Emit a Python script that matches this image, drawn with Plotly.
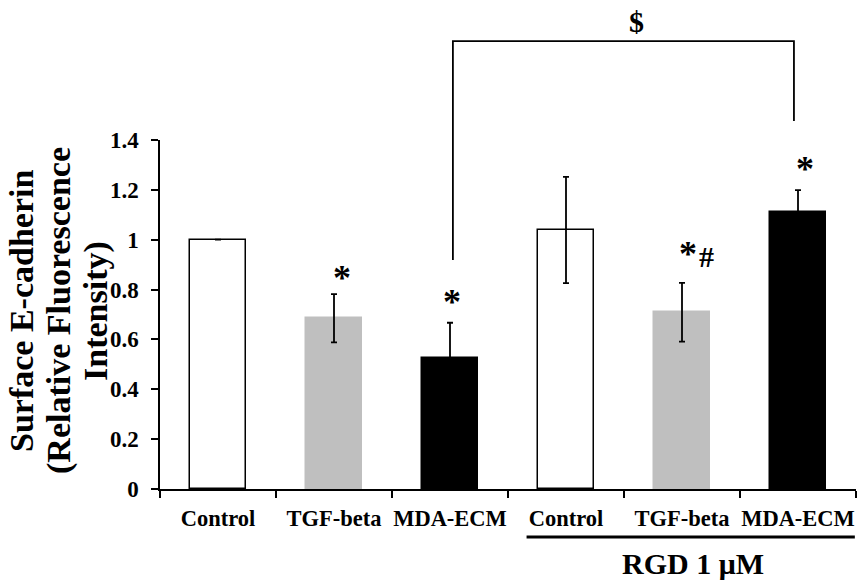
import plotly.graph_objects as go

# ---- data ----
categories = ["Control", "TGF-beta", "MDA-ECM", "Control", "TGF-beta", "MDA-ECM"]
means = [1.0, 0.685, 0.524, 1.039, 0.709, 1.112]
errors = [0.0, 0.097, 0.143, 0.213, 0.118, 0.087]
y_ticks = [0, 0.2, 0.4, 0.6, 0.8, 1.0, 1.2, 1.4]
y_ticktext = ["0", "0.2", "0.4", "0.6", "0.8", "1", "1.2", "1.4"]
title_lines = ["Surface E-cadherin", "(Relative Fluorescence", "Intensity)"]
group_label = "RGD 1 μM"
bracket_label = "$"

# ---- styles ----
FONT = "Liberation Serif, Times New Roman, serif"
fills = ["white", "#bfbfbf", "black", "white", "#bfbfbf", "black"]
edges = ["black", "#bfbfbf", "black", "black", "#bfbfbf", "black"]

W, H = 859, 585
ML, MR, MT, MB = 160, 3, 140, 96
PW = W - ML - MR
PH = H - MT - MB
YMAX = 1.4

x = list(range(len(categories)))

fig = go.Figure()
fig.add_trace(go.Bar(
    x=x, y=means, width=0.49,
    marker=dict(color=fills, line=dict(color=edges, width=1.5)),
    error_y=dict(type="data", array=[e if e > 0 else None for e in errors],
                 visible=True, color="black", thickness=1.8, width=3),
    showlegend=False,
))


def px_to_paper_x(px):
    return (px - ML) / PW


def px_to_paper_y(py):
    return (H - MB - py) / PH


annotations = []
# y-axis title lines (rotated)
for txt, px in zip(title_lines, [21, 59, 96]):
    annotations.append(dict(
        text=txt, xref="paper", yref="paper",
        x=px_to_paper_x(px), y=px_to_paper_y(311),
        xanchor="center", yanchor="middle", textangle=-90, showarrow=False,
        font=dict(family=FONT, size=34, color="black", weight="bold"),
    ))

# significance marks: (bar index, text, dx in category units, y data, size, yshift)
marks = [
    (1, "*", 0.07, 0.870, 36, -6),
    (2, "*", 0.015, 0.774, 36, -6),
    (4, "*", 0.05, 0.967, 36, -6),
    (4, "#", 0.215, 0.931, 30, 0),
    (5, "*", 0.06, 1.308, 36, -6),
]
for i, t, dx, yv, sz, ys in marks:
    annotations.append(dict(
        text=t, xref="x", yref="y", x=x[i] + dx, y=yv,
        xanchor="center", yanchor="middle", showarrow=False, yshift=ys,
        font=dict(family=FONT, size=sz, color="black", weight="bold"),
    ))

# bracket between MDA-ECM (no RGD) and MDA-ECM (RGD)
bx0, bx1 = 2.025, 4.965
b_top, b_left, b_right = 1.797, 0.919, 1.476
shapes = [
    dict(type="path", xref="x", yref="paper",
         path=f"M {bx0} {b_left / YMAX} L {bx0} {b_top / YMAX} L {bx1} {b_top / YMAX} L {bx1} {b_right / YMAX}",
         line=dict(color="black", width=1.8)),
    # underline of RGD group
    dict(type="line", xref="x", yref="paper", x0=2.66, x1=5.49,
         y0=px_to_paper_y(537), y1=px_to_paper_y(537),
         line=dict(color="black", width=3)),
]
annotations.append(dict(
    text=bracket_label, xref="x", yref="paper", x=3.612, y=1.877 / YMAX,
    xanchor="center", yanchor="middle", showarrow=False,
    font=dict(family=FONT, size=30, color="black", weight="bold"),
))
annotations.append(dict(
    text=group_label, xref="x", yref="paper", x=4.095, y=px_to_paper_y(563),
    xanchor="center", yanchor="middle", showarrow=False,
    font=dict(family=FONT, size=30, color="black", weight="bold"),
))

fig.update_layout(
    width=W, height=H,
    margin=dict(l=ML, r=MR, t=MT, b=MB, pad=0),
    paper_bgcolor="white", plot_bgcolor="white",
    font=dict(family=FONT, color="black"),
    annotations=annotations, shapes=shapes,
    bargap=0,
)
fig.update_xaxes(
    range=[-0.5, 5.5], tickmode="array", tickvals=x, ticktext=categories,
    ticks="", showline=True, linecolor="black", linewidth=1.5,
    showgrid=False, zeroline=False,
    tickfont=dict(family=FONT, size=22.5, color="black", weight="bold"),
    ticklabelstandoff=8,
    minor=dict(tickmode="array", tickvals=[v - 0.5 for v in x] + [x[-1] + 0.5],
               ticks="outside", ticklen=7, tickwidth=1.5, tickcolor="black", showgrid=False),
)
fig.update_yaxes(
    range=[0, YMAX], tickmode="array", tickvals=y_ticks, ticktext=y_ticktext,
    ticks="outside", ticklen=7, tickwidth=1.5, tickcolor="black",
    showline=True, linecolor="black", linewidth=1.5,
    showgrid=False, zeroline=False,
    tickfont=dict(family=FONT, size=23, color="black", weight="bold"),
    ticklabelstandoff=8,
)

fig.write_html(
    "out.html",
    config={"displayModeBar": False},
    post_script="document.body.style.margin='0';document.body.style.overflow='hidden';",
)
